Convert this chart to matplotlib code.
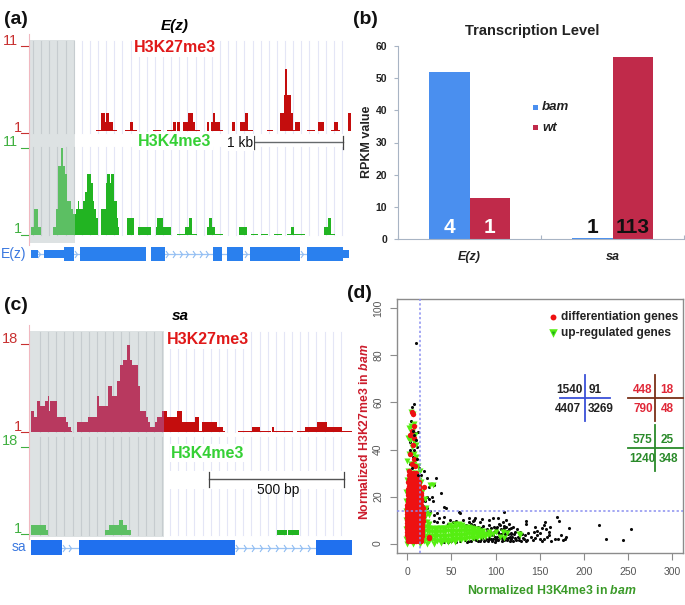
#!/usr/bin/env python3
"""Four panel figure: ChIP-seq tracks at E(z) and sa, RPKM bars, H3K4me3 / H3K27me3 scatter."""
import numpy as np
import matplotlib
matplotlib.use("Agg")
import matplotlib.pyplot as plt
from matplotlib.patches import Rectangle
from matplotlib.path import Path

plt.rcParams["font.family"] = ["Liberation Sans", "DejaVu Sans"]
plt.rcParams["mathtext.fontset"] = "custom"
plt.rcParams["mathtext.it"] = "Liberation Sans:italic:bold"
plt.rcParams["mathtext.rm"] = "Liberation Sans:bold"

W, H = 685, 605

# Tracks: (start, end, signal); x is position along the browser window
ez_k27 = [(288,303,1.1),(303,315,3),(315,318,2),(318,328,3),(328,340,2),(340,350,1.1),(376,390,1.1),(390,399,2),
          (399,412,1.1),(458,482,1.1),(500,518,1.1),(518,528,2),(531,541,2),(548,563,2),(563,578,3),(578,586,2),
          (586,600,1.1),(620,626,1.1),(622,626,2),(634,640,2),(640,645,3),(645,660,2),(660,670,1.1),(696,706,2),
          (720,736,2),(736,743,3),(743,760,1.1),(800,820,1.1),(840,853,3),(853,856,5),(856,862,8),(862,872,5),
          (872,878,3),(878,884,1.1),(885,901,2),(922,945,1.1),(954,972,2),(994,1003,1.1),(1003,1015,2),
          (1015,1020,1.1),(1044,1052,3)]
ez_k4 = [(94,102,2),(102,113,4),(113,122,2),(160,168,2),(168,175,4),(175,182,9),(182,188,11),(188,195,9),
         (195,202,8),(202,212,5),(212,218,4),(218,225,3.5),(225,228,3.5),(228,235,4),(235,238,5),(238,248,4),
         (248,256,5),(256,262,6),(262,274,8),(274,278,7),(278,282,5),(282,288,4),(288,295,3),(302,318,4),
         (318,322,7),(322,330,8),(330,333,7),(333,342,8),(342,350,5),(350,355,3),(355,358,2),(380,403,3),
         (414,452,2),(468,472,2),(472,488,3),(490,513,2),(530,556,1.1),(556,568,2),(568,577,3),(577,590,1.1),
         (622,626,2),(626,636,3),(636,644,2),(644,670,1.1),(717,740,2),(752,775,1.1),(783,805,1.1),
         (822,845,1.1),(860,872,1.1),(872,882,2),(882,915,1.1),(972,985,2),(985,994,3),(994,1005,1.1)]
sa_k27 = [(92,102,5),(102,110,4),(110,120,7),(120,135,6),(135,143,7),(143,147,8),(147,150,5),(150,172,7),
          (172,198,4),(198,205,3),(205,212,2),(212,215,1.2),(232,265,3),(265,290,4),(290,298,8),(298,325,6),
          (325,335,10),(335,352,8),(352,360,11),(360,368,14),(368,380,15),(380,390,18),(390,395,15),(395,414,14),
          (414,420,10),(420,430,5),(430,437,5),(437,445,4),(445,450,3),(450,465,2),(465,472,3),(472,485,4),
          (485,492,5),(492,500,5),(500,530,4),(530,546,5),(546,585,3),(585,596,4),(596,606,1.2),(606,650,3),
          (650,670,2),(670,675,1.1),(715,757,1.1),(757,780,2),(780,812,1.1),(815,823,2),(823,880,1.1),
          (892,915,1.1),(915,952,2),(952,980,3),(980,1026,2),(1026,1055,1.1)]
sa_k4 = [(92,137,3),(137,144,2),(215,280,1.15),(303,315,1.15),(315,328,2),(328,358,3),(358,370,4),(370,382,3),
         (382,392,2),(392,422,1.15),(455,520,1.15),(543,608,1.15),(726,832,1.15),(832,860,2),(864,898,2),
         (898,930,1.15),(1032,1055,1.15)]

# Gene models: (start, end, tall exon?) and intron spans with arrows
ez_exons = [(92,115,0),(133,192,0),(192,223,1),(240,437,1),(454,496,1),(640,665,1),(680,730,1),(750,900,1),
            (920,1030,1),(1030,1048,0)]
ez_introns = [(115,133),(223,240),(496,640),(665,680),(730,750),(900,920)]
ez_arrows = [120, 232, 505, 525, 545, 565, 585, 605, 625, 742, 908]
sa_exons = [(92,185,1),(237,706,1),(947,1055,1)]
sa_introns = [(185,237),(706,947)]
sa_arrows = [195, 212, 715, 738, 762, 786, 810, 834, 858, 882, 906, 930]

# Panel b
genes = ["E(z)", "sa"]
bam_rpkm = [52.0, 0.3]
wt_rpkm = [12.8, 56.5]
bam_labels = ["4", "1"]
wt_labels = ["1", "113"]

# Panel d
black_pts = [(10,85.5),(8,59.5),(5,58),(4,52),(9,47),(12,47.5),(3,43),(7,43),(11,41),(6,37),(10,36),(3,34),(13,32),
    (19,31),(16,29),(22,28),(33,28),(30,25),(24,24),(38,21.5),(28,20),(25,19),(22,20),(20,18),(29,18),(41,15.5),
    (44,15),(26,14),(22,15),(18,16),(30,12),(34,13),(58,13.5),(60,13),(109,13.5),(36,11),(42,11.5),(48,10),
    (55,9.5),(63,10),(70,11),(76,10),(77,11),(85,10.5),(92,10),(97,11),(103,11),(108,9),(112,10),(115,8.5),
    (120,7),(134,9.5),(135,8.5),(156,9),(155,8),(145,7),(147,5.5),(133,3.5),(128,5),(122,5),(118,6.5),(170,11.5),
    (172,9.5),(183,6.5),(162,7),(160,5),(157,6),(153,6.5),(150,4.5),(143,5),(140,3),(137,4.5),(132,2),(125,3),
    (118,2),(113,1.5),(108,2),(104,4),(100,2),(96,1),(92,3),(88,1.5),(84,3),(80,1),(75,2),(70,1),(65,1.5),(60,1),
    (55,0.8),(50,1),(86,5),(90,6),(94,5),(98,7),(102,7),(106,6),(110,6.5),(114,4),(118,4),(122,2.5),(92,8),
    (86,7.5),(82,9),(80,7),(76,8),(72,8.5),(66,8),(62,8.5),(88,4),(92,4.5),(97,3.5),(101,5.5),(105,8),(109,4.5),
    (112,7),(116,3),(120,1),(126,1.5),(130,4),(136,1.5),(145,2.5),(150,2),(153,1),(155,2),(158,3),(161,3.5),
    (163,1),(167,2),(171,2),(174,3.5),(176,1.5),(179,2),(180,3),(147,3.5),(142,1.5),(217,8),(225,2),(244,1.5),
    (253,6),(95,2),(99,0.8),(103,1.5),(107,3),(111,2.5),(84,6.5),(78,5),(83,2),(87,1),
    (85,2.5),(87,3.5),(89,2),(90,5),(91,1),(93,2),(94,3.5),(95,6.5),(96,4.5),(97,2),(98,5),(99,3),(100,6),(101,1.5),
    (102,3),(103,5),(104,8.5),(105,2.5),(106,4),(107,1),(108,5),(109,7.5),(110,1.5),(111,4),(113,5.5),(114,2.5),
    (115,6),(116,1),(117,4.5),(119,3),(121,4),(123,1.5),(124,6),(127,3),(129,1),(131,2.5),(134,1),(70,9),(74,9.5),
    (58,8.5),(52,9),(46,8.5),(40,9),(34,9),(30,9.5),(46,0.5),(42,0.5),(68,0.8),(72,1.2),(78,1.5),(82,1)]
green_pts = [(4,56),(6,55),(7,51),(4,50),(2,49),(8,49),(5,47),(9,46),(1,45),(3,44),(8,43),(10,42),(5,41),(2,38),
    (7,38),(10,37),(0,35),(4,34),(8,34),(12,33),(1,31),(5,30),(10,30),(14,31),(0,27),(3,26),(8,27),(13,27),(16,26),
    (-1,22),(12,23),(17,22),(29,25),(26,25),(-1,18),(16,18),(20,19),(-1,14),(17,14),(21,15),(-1,10),(19,11),(24,12),
    (-1,6),(-1,2),(0,0),(6,-0.3),(14,0),(22,0),(30,0),(38,0.3),(46,0.5),(54,0.8),
    (19,1),(22,1.5),(25,1),(28,1.5),(31,1),(34,1.3),(37,1),(40,1.5),(43,1.2),(46,1.6),(49,1.3),(52,1.8),(55,1.4),
    (58,2),(61,1.7),(64,2.1),(67,1.9),(70,2.2),(73,2.2),(76,2.5),(79,2.3),(82,2.6),(85,2.8),(88,3),
    (19,3),(22,3.4),(25,2.9),(28,3.3),(31,2.8),(34,3.2),(37,2.9),(40,3.3),(43,3),(46,3.4),(49,3.1),(52,3.5),(55,3.2),
    (58,3.6),(61,3.4),(64,3.8),(67,3.5),(70,3.9),(73,3.7),(76,4),(79,3.8),(82,4.2),(85,4),(88,4.2),(91,3.6),(94,3.8),
    (19,5),(22,5.2),(25,4.8),(28,5.1),(31,4.7),(34,5),(37,4.8),(40,5.1),(43,4.9),(46,5.2),(49,5),(52,5.3),(55,5),
    (58,5.4),(61,5.2),(64,5.5),(67,5.2),(70,5.5),(73,5.2),(76,5.4),(79,5.1),(82,5.3),(86,5.2),(92,4.8),(97,4),
    (19,7),(22,7.1),(25,6.6),(28,6.8),(31,6.4),(34,6.7),(37,6.5),(40,6.8),(43,6.7),(46,7),(49,6.9),(52,7.2),(55,7),
    (58,7.3),(61,7),(64,7.2),(67,6.8),(70,6.9),(73,6.6),(76,6.4),(80,6.2),
    (19,9),(22,9),(25,8.2),(48,8),(54,8.4),(58,8.2),(62,7.9),(20,11.5),(22,13),(110,2.5),(100,5),(105,3),(108,5),
    (113,4.5),(128,3.5),(126,4.2)]
red_pts = [(5,56),(6,55),(7,50),(5,48),(3,46),(8,45),(6,42),(3,38),(7,36),(5,34),(9,33),(2,31),(6,30),(10,30),
    (1.5,29),(4.5,28.7),(7.5,29),(10.5,28.5),(2,27.4),(5,27.2),(8,27.5),(11,27),(1,26),(4,25.8),(7,26),(10,25.9),(13,26),
    (1.5,24.6),(4.5,24.5),(7.5,24.7),(10.5,24.4),(13.5,24.6),(1,23.2),(4,23.1),(7,23.3),(10,23),(13,23.2),
    (0.5,21.8),(3.5,21.9),(6.5,21.7),(9.5,21.9),(12.5,21.8),(15,21.6),(0.5,20.5),(3.5,20.4),(6.5,20.6),(9.5,20.4),(12.5,20.5),(15,20.6),
    (0.3,19.1),(3.3,19.2),(6.3,19),(9.3,19.2),(12.3,19),(15.3,19.1),(0.3,17.8),(3.3,17.7),(6.3,17.9),(9.3,17.7),(12.3,17.8),(15.3,17.9),
    (0,16.5),(3,16.4),(6,16.6),(9,16.4),(12,16.5),(15,16.6),(0,15.2),(3,15.1),(6,15.3),(9,15.1),(12,15.2),(15,15.3),(17.5,15),
    (0,13.9),(3,14),(6,13.8),(9,14),(12,13.9),(15,13.8),(17.5,13.6),(0,12.6),(3,12.5),(6,12.7),(9,12.5),(12,12.6),(15,12.7),(18,12.4),
    (0,11.3),(3,11.2),(6,11.4),(9,11.2),(12,11.3),(15,11.4),(18,11.1),(0,10),(3,10.1),(6,9.9),(9,10.1),(12,10),(15,9.9),(18,9.8),
    (0,8.7),(3,8.6),(6,8.8),(9,8.6),(12,8.7),(15,8.8),(17,8.5),(0,7.4),(3,7.3),(6,7.5),(9,7.3),(12,7.4),(15,7.5),(17,7.2),
    (0,6.1),(3,6.2),(6,6),(9,6.2),(12,6.1),(15,6),(16.5,5.9),(0,4.8),(3,4.7),(6,4.9),(9,4.7),(12,4.8),(15,4.9),(16.5,4.6),
    (0,3.5),(3,3.4),(6,3.6),(9,3.4),(12,3.5),(15,3.6),(16.5,3.3),(0.5,2.2),(3.5,2.3),(6.5,2.1),(9.5,2.3),(12.5,2.2),(15.5,2.1),
    (1,1),(4,0.9),(7,1.1),(10,0.9),(13,1),(15.5,1),(25,3),(19,24),(24,2.5)]
black_top = [(6,48),(10,44),(3,40),(8,40),(11,36),(5,32),(12,29),(7,46)]

# Contingency tables: top-left, top-right, bottom-left, bottom-right
table_all = ["1540", "91", "4407", "3269"]
table_diff = ["448", "18", "790", "48"]
table_up = ["575", "25", "1240", "348"]


def axes_px(fig, x0, y0, x1, y1, **kw):
    """Axes from pixel box, y measured from the top of the figure."""
    return fig.add_axes([x0 / W, 1 - y1 / H, (x1 - x0) / W, (y1 - y0) / H], **kw)


def draw_track(fig, box, ylim, spans, grey_end, col_bright, col_grey):
    ax = axes_px(fig, *box)
    ax.patch.set_visible(False)
    ax.axis("off")
    ax.set_xlim(88, 1056)
    ax.set_ylim(*ylim)
    starts = np.array([s[0] for s in spans], float)
    ends = np.array([s[1] for s in spans], float)
    vals = np.array([s[2] for s in spans], float)
    colors = [col_grey if s < grey_end else col_bright for s in starts]
    ax.bar(starts, vals - 1, width=ends - starts, bottom=1, align="edge", color=colors, linewidth=0)
    return ax


def draw_gene(fig, box, exons, introns, arrows, exon_col="#2277ee"):
    ax = axes_px(fig, *box)
    ax.patch.set_visible(False)
    ax.axis("off")
    ax.set_xlim(88, 1056)
    ax.set_ylim(-1, 1)
    for a, b in introns:
        ax.plot([a, b], [0, 0], color="#9cc4f4", lw=0.9, zorder=1)
    chevron = Path([(-1, 1.4), (0, 0), (-1, -1.4)])
    ax.plot(arrows, np.zeros(len(arrows)), ls="none", marker=chevron, ms=5, mfc="none",
            mec="#8fbcf2", mew=0.8, zorder=1)
    for a, b, tall in exons:
        h = 1.0 if tall else 0.55
        ax.add_patch(Rectangle((a, -h), b - a, 2 * h, color=exon_col, lw=0, zorder=2))
    return ax


fig = plt.figure(figsize=(W / 100, H / 100), dpi=100)

# page overlay in pixels, for shading and free text
page = fig.add_axes([0, 0, 1, 1])
page.set_xlim(0, W)
page.set_ylim(H, 0)
page.axis("off")

RED, GREEN = "#e01010", "#35d035"
for letter, lx, ly in [("(a)", 4, 20), ("(b)", 353, 20), ("(c)", 4, 306), ("(d)", 347, 294)]:
    page.text(lx, ly, letter, fontsize=14, fontweight="bold", color="#111111", va="center")

# panel a / c page furniture
for gx0, gx1, gy0, gy1, x_first, y_spans in [
        (30, 75, 40, 243, 33, [(41, 133), (147, 235)]),
        (30, 164, 331, 537, 40, [(332, 432), (437, 535)])]:
    page.add_patch(Rectangle((gx0, gy0), gx1 - gx0, gy1 - gy0, color="#dde2e3", lw=0, zorder=0))
    for gx in np.arange(x_first, 345, 8.13):
        col = "#c6cccf" if gx < gx1 else "#e4e6f6"
        for y0, y1 in y_spans:
            page.plot([gx, gx], [y0, y1], color=col, lw=0.8, zorder=0.5)
    page.plot([29.5, 29.5], [gy0 - 6, gy1 + 2], color="#f0b8c0", lw=0.8, zorder=0.6)

for txt, tx, ty, col in [("11", 10, 41, "#c83030"), ("1", 14, 128, "#c83030"), ("11", 10, 142, "#40b040"),
                         ("1", 14, 229, "#40b040"), ("18", 10, 339, "#c83030"), ("1", 14, 427, "#c83030"),
                         ("18", 10, 441, "#40b040"), ("1", 14, 529, "#40b040")]:
    page.text(tx, ty, txt, fontsize=10.5, color=col, ha="center" if len(txt) == 2 else "left", va="center")
for y, col in [(46, "#c83030"), (133, "#c83030"), (148, "#40b040"), (235, "#40b040"),
               (344, "#c83030"), (432, "#c83030"), (447, "#40b040"), (534, "#40b040")]:
    page.plot([21, 28], [y, y], color=col, lw=0.8)

page.text(175, 26, "E(z)", fontsize=11, fontweight="bold", fontstyle="italic", ha="center", va="center")
page.text(180, 316, "sa", fontsize=11, fontweight="bold", fontstyle="italic", ha="center", va="center")
white_box = dict(facecolor="white", edgecolor="none", pad=1)
page.text(175, 48, "H3K27me3", fontsize=11.5, fontweight="bold", color="#e01818", ha="center", va="center", bbox=white_box)
page.text(175, 141, "H3K4me3", fontsize=11.5, fontweight="bold", color=GREEN, ha="center", va="center", bbox=white_box)
page.text(208, 340, "H3K27me3", fontsize=11.5, fontweight="bold", color="#e01818", ha="center", va="center", bbox=white_box)
page.text(208, 453, "H3K4me3", fontsize=11.5, fontweight="bold", color=GREEN, ha="center", va="center", bbox=white_box)

# scale bars
page.plot([254, 343], [142, 142], color="#666a6c", lw=1)
for x in (254, 343):
    page.plot([x, x], [136, 149], color="#444444", lw=0.9)
page.text(240, 143, "1 kb", fontsize=10, color="#111111", ha="center", va="center", bbox=white_box)
page.add_patch(Rectangle((165, 471), 180, 18, color="white", lw=0, zorder=0.7))
page.plot([209, 344], [479, 479], color="#555555", lw=1, zorder=2)
for x in (209, 344):
    page.plot([x, x], [472, 487], color="#444444", lw=0.9, zorder=2)
page.text(278, 490, "500 bp", fontsize=10, color="#111111", ha="center", va="center", zorder=2)

page.text(14, 254, "E(z)", fontsize=10, color="#3a78e0", ha="center", va="center")
page.text(19, 547, "sa", fontsize=10, color="#3a78e0", ha="center", va="center")

# tracks
draw_track(fig, (29.33, 40, 352, 133.3), (0.7, 11.26), ez_k27, 225, "#c40d0d", "#b8395f")
draw_track(fig, (29.33, 135, 352, 243), (1 - 23 / 26, 1 + 300 / 26), ez_k4, 225, "#22b422", "#5cbf63")
draw_track(fig, (29.33, 331, 352, 432), (1, 1 + 303 / 15.4), sa_k27, 492, "#c40d0d", "#b8395f")
draw_track(fig, (29.33, 437, 352, 537), (1 - 5 / 15.4, 1 + 295 / 15.4), sa_k4, 492, "#22b422", "#5cbf63")
draw_gene(fig, (29.33, 247, 352, 261), ez_exons, ez_introns, ez_arrows, "#2a80ee")
draw_gene(fig, (29.33, 540, 352, 555), sa_exons, sa_introns, sa_arrows, "#2070ee")

# panel b
axb = axes_px(fig, 398, 46, 684, 239)
axb.patch.set_visible(False)
x = np.arange(len(genes))
bar_w = 0.284
axb.bar(x - bar_w / 2, bam_rpkm, bar_w, color="#4a8fef", linewidth=0)
axb.bar(x + bar_w / 2, wt_rpkm, bar_w, color="#c02a4a", linewidth=0)
axb.set_xlim(-0.5, 1.5)
axb.set_ylim(0, 60)
axb.set_yticks(range(0, 61, 10))
axb.set_xticks([-0.5, 0.5, 1.5])
axb.set_xticklabels([])
for s in ("top", "right"):
    axb.spines[s].set_visible(False)
for s in ("left", "bottom"):
    axb.spines[s].set_color("#a8b4c4")
axb.tick_params(axis="y", length=3, color="#a8b4c4", labelsize=7.5, pad=5, labelcolor="#222222")
axb.tick_params(axis="x", length=3, color="#a8b4c4", direction="in")
for lab in axb.get_yticklabels():
    lab.set_fontweight("bold")
page.text(367, 142, "RPKM value", fontsize=9, fontweight="bold", color="#222222", rotation=90, ha="center", va="center")
for i, g in enumerate(genes):
    axb.text(i, -5.6, g, fontsize=9, fontweight="bold", fontstyle="italic", ha="center", va="center", color="#222222")
    axb.text(i - bar_w / 2, 3.7, bam_labels[i], fontsize=15, fontweight="bold", ha="center", va="center",
             color="white" if i == 0 else "#111111")
    axb.text(i + bar_w / 2, 3.7, wt_labels[i], fontsize=15, fontweight="bold", ha="center", va="center",
             color="white" if i == 0 else "#111111")
page.text(532, 31, "Transcription Level", fontsize=10.5, fontweight="bold", color="#222222", ha="center", va="center")
page.add_patch(Rectangle((533, 105), 5.5, 5, color="#4a8fef", lw=0))
page.add_patch(Rectangle((533, 125), 5.5, 5, color="#c02a4a", lw=0))
page.text(542, 107.5, "bam", fontsize=9.5, fontweight="bold", fontstyle="italic", color="#222222", va="center")
page.text(542, 128, "wt", fontsize=9.5, fontweight="bold", fontstyle="italic", color="#222222", va="center")

# panel d
axd = axes_px(fig, 397, 299, 683, 553)
axd.patch.set_visible(False)
axd.set_xlim(-11.7, 312.4)
axd.set_ylim(-4, 104)
bx, by = np.array(black_pts).T
gx, gy = np.array(green_pts).T
rx, ry = np.array(red_pts).T
tx, ty = np.array(black_top).T
axd.scatter(bx, by, s=5, c="#0a0a0a", linewidths=0, zorder=2)
axd.scatter(gx, gy, s=19, c="#55ee11", marker="v", linewidths=0, zorder=3)
axd.scatter(rx, ry, s=15, c="#ee1111", marker="o", linewidths=0, zorder=4)
axd.scatter(tx, ty, s=5, c="#0a0a0a", linewidths=0, zorder=5)
axd.axvline(14, color="#8a8ff0", ls=(0, (1.5, 1.5)), lw=1.1, zorder=6)
axd.axhline(14, color="#8a8ff0", ls=(0, (1.5, 1.5)), lw=1.1, zorder=6)
axd.set_xticks(range(0, 301, 50))
axd.set_yticks(range(0, 101, 20))
for s in axd.spines.values():
    s.set_color("#8c8c8c")
    s.set_linewidth(1)
axd.tick_params(length=5, color="#8c8c8c", labelsize=7.5, labelcolor="#555555", pad=5)
for lab in axd.get_yticklabels():
    lab.set_rotation(90)
    lab.set_va("center")

# page axes sits under panel d, so legend and crosses go on a clear layer above it
top = fig.add_axes([0, 0, 1, 1])
top.patch.set_visible(False)
top.set_xlim(0, W)
top.set_ylim(H, 0)
top.axis("off")
top.text(552, 590, r"Normalized H3K4me3 in $\mathit{bam}$", fontsize=8.8, fontweight="bold", color="#3a9a28", ha="center", va="center")
top.text(365, 432, r"Normalized H3K27me3 in $\mathit{bam}$", fontsize=8.8, fontweight="bold", color="#cc1c2c",
         rotation=90, ha="center", va="center")
top.scatter([553], [317], s=18, c="#ee1111", linewidths=0)
top.scatter([553], [333], s=38, c="#55ee11", marker="v", linewidths=0)
top.scatter([553], [333], s=7, c="#22aa22", marker="v", linewidths=0)
top.text(561, 317, "differentiation genes", fontsize=8.6, fontweight="bold", color="#222222", va="center")
top.text(561, 333, "up-regulated genes", fontsize=8.6, fontweight="bold", color="#222222", va="center")
crosses = [(585, 398, 560, 610, 375, 421, "#3a50d8", "#222222", table_all,
            [(569, 390), (595, 390), (568, 409), (601, 409)]),
           (655, 398, 628, 683, 375, 421, "#7a3018", "#e02838", table_diff,
            [(643, 390), (667, 390), (643, 409), (667, 409)]),
           (655, 448, 628, 683, 425, 471, "#2a8a2a", "#2a8a2a", table_up,
            [(643, 440), (667, 440), (642, 459), (669, 459)])]
for cx, cy, x0, x1, y0, y1, line_col, txt_col, table, spots in crosses:
    top.plot([x0, x1], [cy, cy], color=line_col, lw=1.3)
    top.plot([cx, cx], [y0, y1], color=line_col, lw=1.3)
    for label, (sx, sy) in zip(table, spots):
        top.text(sx, sy, label, fontsize=8.5, fontweight="bold", color=txt_col, ha="center", va="center")

fig.savefig("out.png", dpi=100)
